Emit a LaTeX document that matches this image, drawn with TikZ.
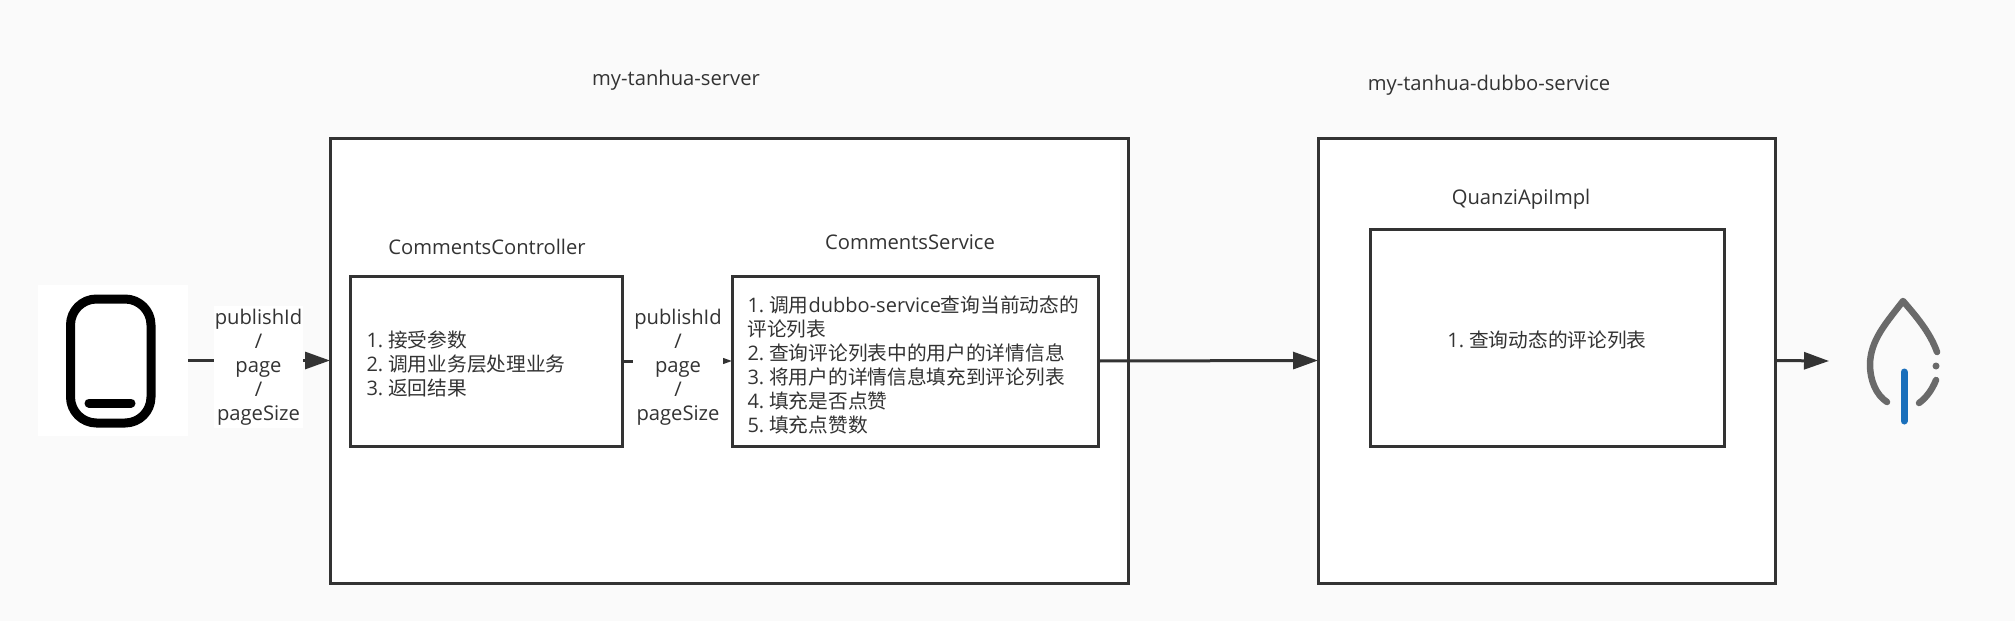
\documentclass[tikz,border=0pt]{standalone}
\usepackage{fontspec}
\usetikzlibrary{arrows.meta}
\setmainfont{Open Sans}
\newfontfamily\cjkfont[Scale=0.985]{Noto Sans CJK SC}
\newcommand{\zh}[1]{{\cjkfont #1}}
\newcommand{\num}[1]{#1.\hspace{5pt}}
\newcommand{\lift}[1]{\rule{0pt}{#1pt}}
\definecolor{ink}{HTML}{333333}
\definecolor{pagebg}{HTML}{FAFAFA}
\definecolor{leafgray}{HTML}{6A6A6A}
\definecolor{leafblue}{HTML}{1A6FBB}
\tikzset{
  txt/.style={text=ink,font=\fontsize{20.2}{24}\selectfont,inner sep=0pt,outer sep=0pt},
  boxn/.style={draw=ink,fill=white,line width=3pt,outer sep=0pt,inner sep=0pt,
    text=ink,font=\fontsize{20}{24}\selectfont},
  lbl/.style={txt,fill=white,align=center,inner ysep=3pt,inner xsep=1pt},
  conn/.style={draw=ink,line width=3pt,-{Triangle[length=25pt,width=17pt]}},
  title/.style={txt}
}
\begin{document}
\begin{tikzpicture}[x=1pt,y=-1pt]
\useasboundingbox[fill=pagebg] (0,0) rectangle (2015,621);
% outer boxes
\node[boxn,minimum width=798pt,minimum height=445pt] (serverBox) at (729,360.5) {};
\node[boxn,minimum width=457pt,minimum height=445pt] (dubboBox) at (1546.5,360.5) {};
% inner boxes
\node[boxn,minimum width=272pt,minimum height=170pt,align=left,text width=240pt] (ctrlBox) at (486.5,361)
  {\lift{23}\num{1}\zh{接受参数}\\\num{2}\zh{调用业务层处理业务}\\\num{3}\zh{返回结果}};
\node[boxn,minimum width=366pt,minimum height=170pt,align=left,text width=335pt] (svcBox) at (915,361)
  {\lift{25}\num{1}\zh{调用}dubbo-service\zh{查询当前动态的}\\\zh{评论列表}\\\num{2}\zh{查询评论列表中的用户的详情信息}\\\num{3}\zh{将用户的详情信息填充到评论列表}\\\num{4}\zh{填充是否点赞}\\\num{5}\zh{填充点赞数}};
\node[boxn,minimum width=354pt,minimum height=217pt,align=center] (implBox) at (1547,337.5)
  {\lift{22}\num{1}\zh{查询动态的评论列表}};
% phone icon
\node[fill=white,minimum width=150pt,minimum height=151pt,outer sep=0pt,inner sep=0pt] (phone) at (113,360.5) {};
\draw[black,line width=9pt,rounded corners=26pt] (70.5,299) rectangle (151,423);
\draw[black,line width=9pt,line cap=round] (89,403) -- (131,403);
% mongodb leaf
\coordinate (leaf) at (1829,361);
\draw[leafgray,line width=6.5pt,line cap=round,line join=round]
  (1887,402) .. controls (1876,395) and (1870,380) .. (1870,365)
  .. controls (1870,340) and (1887,322) .. (1903,301)
  .. controls (1915,315) and (1930,332) .. (1937,352);
\draw[leafgray,line width=6.5pt,line cap=round] (1936,380) .. controls (1932,390) and (1926,398) .. (1919,403);
\fill[leafgray] (1936,366) circle (3.5pt);
\draw[leafblue,line width=7pt,line cap=round] (1904,372) -- (1904,421);
% connectors
\draw[conn] (phone.east) -- (serverBox.west);
\draw[conn] (ctrlBox.east) -- (svcBox.west);
\draw[conn] (svcBox.east) -- (dubboBox.west);
\draw[conn] (dubboBox.east) -- (leaf);
% connector labels
\node[lbl] (lblA) at (258.5,367) {publishId\\/\\page\\/\\pageSize};
\node[lbl] (lblB) at (678,367) {publishId\\/\\page\\/\\pageSize};
% titles
\node[title] (t1) at (676,80.5) {my-tanhua-server};
\node[title] (t2) at (1489,85.5) {my-tanhua-dubbo-service};
\node[title] (t3) at (487,247) {CommentsController};
\node[title] (t4) at (910,242) {CommentsService};
\node[title] (t5) at (1521,199.5) {QuanziApiImpl};
\end{tikzpicture}
\end{document}
